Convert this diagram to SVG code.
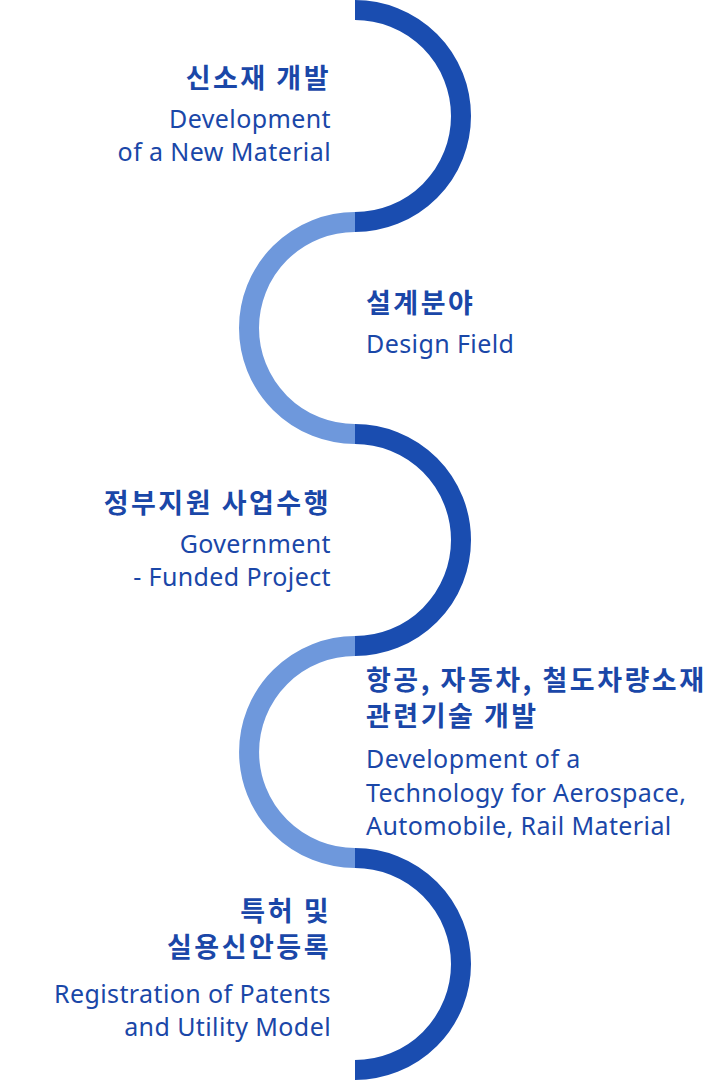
<svg xmlns="http://www.w3.org/2000/svg" width="710" height="1080" viewBox="0 0 710 1080">
<style>
.d{fill:none;stroke:#1a4db0;stroke-width:20}
.l{fill:none;stroke:#6e98dc;stroke-width:20}
.k{font-family:"Noto Sans CJK KR","Noto Sans",sans-serif;font-weight:700;font-size:27px;letter-spacing:2.5px;fill:#1a47a8}
.e{font-family:"Noto Sans","Open Sans",sans-serif;font-size:25px;letter-spacing:0.4px;fill:#1a47a8}
.r{text-anchor:end}
</style>
<rect width="710" height="1080" fill="#fff"/>
<g id="connectors">
<path class="d" d="M355,10 A106,106 0 0 1 355,222"/>
<path class="l" d="M355,222 A106,106 0 0 0 355,434"/>
<path class="d" d="M355,434 A106,106 0 0 1 355,646"/>
<path class="l" d="M355,646 A106,106 0 0 0 355,858"/>
<path class="d" d="M355,858 A106,106 0 0 1 355,1070"/>
</g>
<g id="n1"><text class="k r" x="331" y="88">신소재 개발</text><text class="e r" x="331" y="128">Development</text><text class="e r" x="331" y="161">of a New Material</text></g>
<g id="n2"><text class="k" x="366" y="313">설계분야</text><text class="e" x="366" y="353">Design Field</text></g>
<g id="n3"><text class="k r" x="331" y="513">정부지원 사업수행</text><text class="e r" x="331" y="553">Government</text><text class="e r" x="331" y="586">- Funded Project</text></g>
<g id="n4"><text class="k" x="366" y="690">항공, 자동차, 철도차량소재</text><text class="k" x="366" y="726">관련기술 개발</text><text class="e" x="366" y="768">Development of a</text><text class="e" x="366" y="802">Technology for Aerospace,</text><text class="e" x="366" y="835">Automobile, Rail Material</text></g>
<g id="n5"><text class="k r" x="331" y="921">특허 및</text><text class="k r" x="331" y="957">실용신안등록</text><text class="e r" x="331" y="1003">Registration of Patents</text><text class="e r" x="331" y="1036">and Utility Model</text></g>
</svg>
